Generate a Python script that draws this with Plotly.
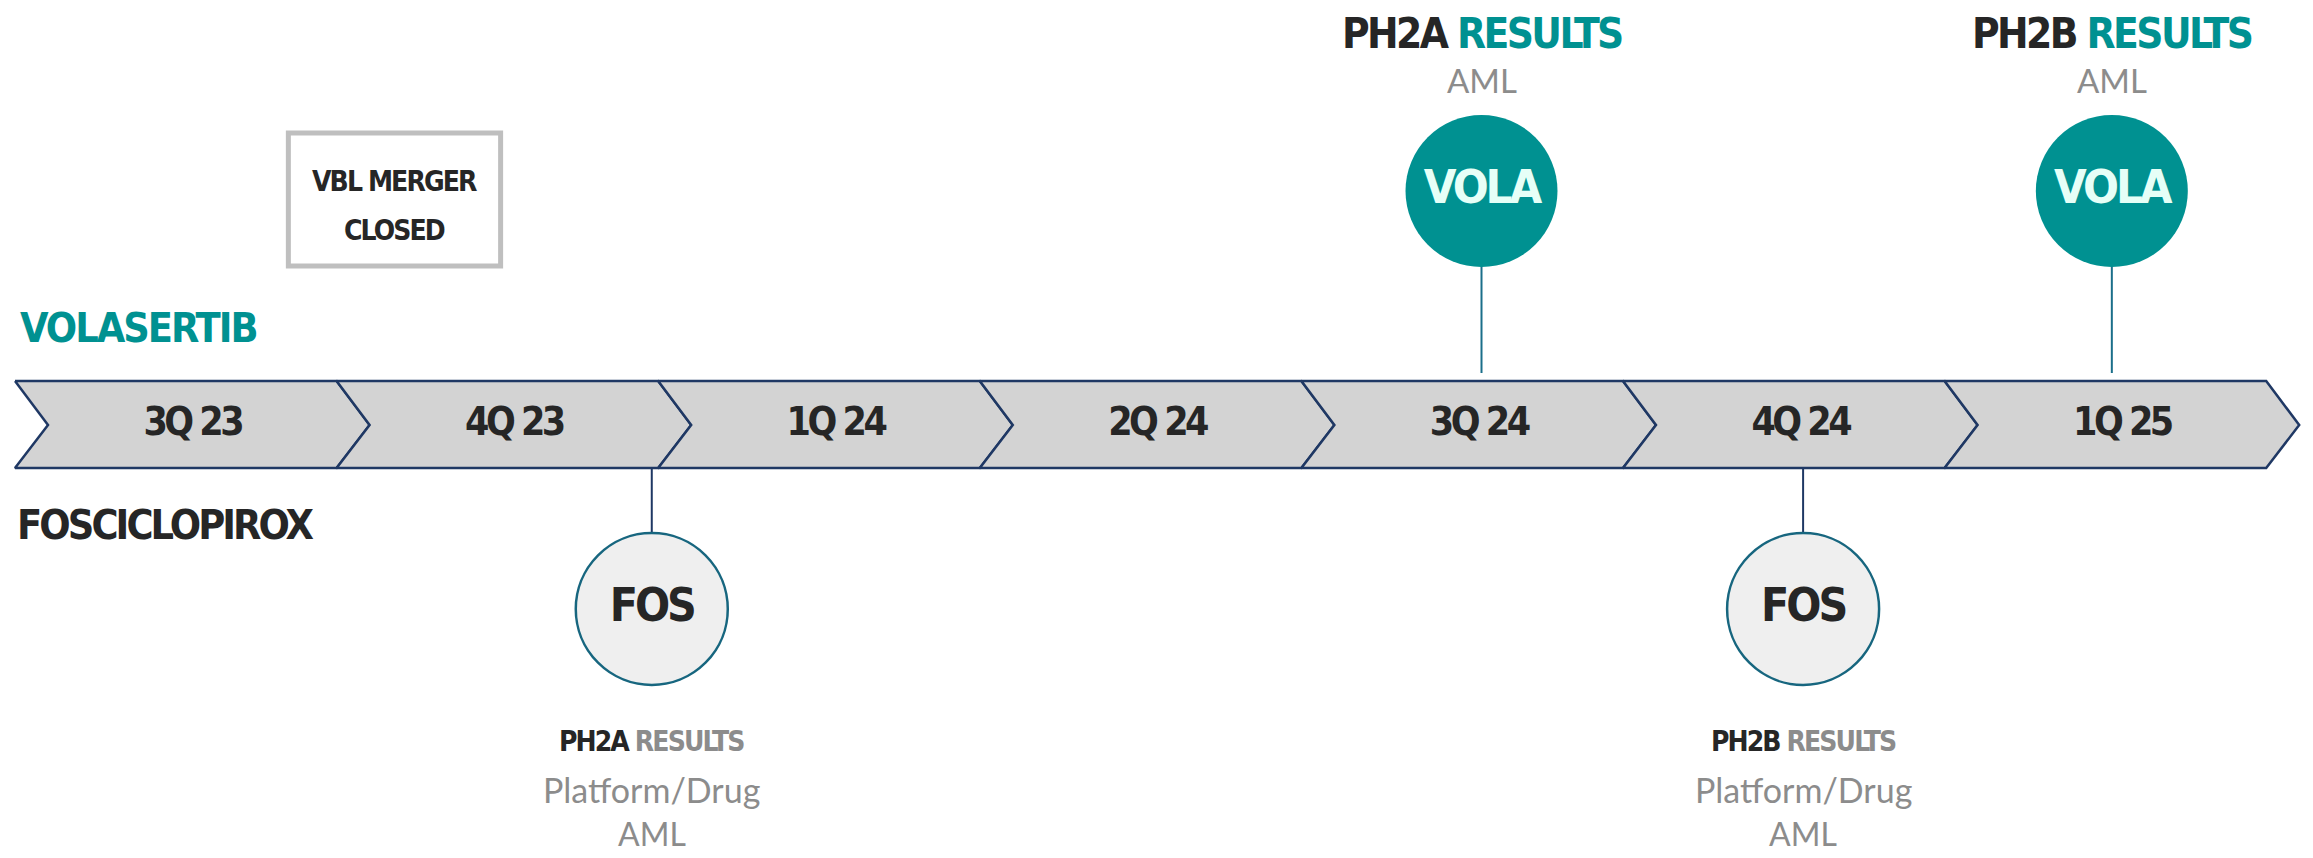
import plotly.graph_objects as go

# ---------------- data ----------------
quarters = ["3Q 23", "4Q 23", "1Q 24", "2Q 24", "3Q 24", "4Q 24", "1Q 25"]

# Volasertib milestones (position in quarter units along the timeline)
vola_pos = [4.56, 6.52]
vola_phase = ["PH2A", "PH2B"]
vola_word = ["RESULTS", "RESULTS"]
vola_sub = ["AML", "AML"]
vola_label = ["VOLA", "VOLA"]

# Fosciclopirox milestones
fos_pos = [1.98, 5.56]
fos_phase = ["PH2A", "PH2B"]
fos_word = ["RESULTS", "RESULTS"]
fos_sub1 = ["Platform/Drug", "Platform/Drug"]
fos_sub2 = ["AML", "AML"]
fos_label = ["FOS", "FOS"]

track_names = ["VOLASERTIB", "FOSCICLOPIROX"]
merger_text = ["VBL MERGER", "CLOSED"]
merger_span = [0.85, 1.51]  # quarter units

# ---------------- style / layout constants ----------------
W, H = 2313, 858
PAGE_OFF = 8                      # default body margin of the html page
X0_PX, Q_PX = 15, 321.6
TIP = 33 / Q_PX
BAND_TOP, BAND_MID, BAND_BOT = 381, 425, 468

COND = "Liberation Sans Narrow, DejaVu Sans Condensed, Arial Narrow, sans-serif"
SANS = "Lato, Open Sans, sans-serif"
DARK = "#262626"
TEAL = "#009191"
GRAY = "#8c8c8c"
NAVY = "#1f3864"
LINE_TEAL = "#1b6f8a"


def cond(txt, ls, color=None):
    st = f"letter-spacing:{ls}px"
    if color:
        st += f";color:{color}"
    return f"<span style='{st}'>{txt}</span>"


fig = go.Figure()

# chevrons
for i, q in enumerate(quarters):
    xs = [i, i + 1, i + 1 + TIP, i + 1, i, i + TIP, i]
    ys = [BAND_TOP, BAND_TOP, BAND_MID, BAND_BOT, BAND_BOT, BAND_MID, BAND_TOP]
    fig.add_trace(go.Scatter(x=xs, y=ys, mode="lines", fill="toself",
                             fillcolor="#d3d3d3",
                             line=dict(color=NAVY, width=2.5),
                             hoverinfo="skip", showlegend=False))

fig.add_trace(go.Scatter(
    x=[i + 0.5 + TIP / 2 for i in range(len(quarters))],
    y=[BAND_MID] * len(quarters), mode="text",
    text=[cond(q, -3.5) for q in quarters],
    textfont=dict(family=COND, size=39, color=DARK, weight="bold"),
    hoverinfo="skip", showlegend=False))

# connector lines
for p in vola_pos:
    fig.add_trace(go.Scatter(x=[p, p], y=[266, 373], mode="lines",
                             line=dict(color=LINE_TEAL, width=2),
                             hoverinfo="skip", showlegend=False))
for p in fos_pos:
    fig.add_trace(go.Scatter(x=[p, p], y=[BAND_BOT, 532], mode="lines",
                             line=dict(color=NAVY, width=2),
                             hoverinfo="skip", showlegend=False))

# circles
fig.add_trace(go.Scatter(
    x=vola_pos, y=[191] * len(vola_pos), mode="markers+text",
    text=[cond(t, -3) for t in vola_label], textposition="middle center",
    marker=dict(size=152, color=TEAL, line=dict(width=0)),
    textfont=dict(family=COND, size=47, color="#e6fff7", weight="bold"),
    hoverinfo="skip", showlegend=False))
fig.add_trace(go.Scatter(
    x=fos_pos, y=[609] * len(fos_pos), mode="markers+text",
    text=[cond(t, -3) for t in fos_label], textposition="middle center",
    marker=dict(size=152, color="#efefef", line=dict(width=2.5, color="#17667f")),
    textfont=dict(family=COND, size=46, color=DARK, weight="bold"),
    hoverinfo="skip", showlegend=False))

ann = []
# top titles
for p, ph, wd, sub in zip(vola_pos, vola_phase, vola_word, vola_sub):
    ann.append(dict(x=p, y=33, xref="x", yref="y", showarrow=False,
                    text=cond(ph + " ", -2.6) + cond(wd, -2.6, TEAL),
                    font=dict(family=COND, size=42, color=DARK, weight="bold")))
    ann.append(dict(x=p, y=80, xref="x", yref="y", showarrow=False, text=sub,
                    font=dict(family=SANS, size=33, color=GRAY)))
# bottom titles
for p, ph, wd, s1, s2 in zip(fos_pos, fos_phase, fos_word, fos_sub1, fos_sub2):
    ann.append(dict(x=p, y=741, xref="x", yref="y", showarrow=False,
                    text=cond(ph + " ", -1.9) + cond(wd, -1.9, GRAY),
                    font=dict(family=COND, size=28, color=DARK, weight="bold")))
    ann.append(dict(x=p, y=789, xref="x", yref="y", showarrow=False, text=s1,
                    font=dict(family=SANS, size=34, color=GRAY)))
    ann.append(dict(x=p, y=833, xref="x", yref="y", showarrow=False, text=s2,
                    font=dict(family=SANS, size=32, color=GRAY)))

# track names
ann.append(dict(x=0.01, y=328, xref="x", yref="y", showarrow=False, xanchor="left",
                text=cond(track_names[0], -2),
                font=dict(family=COND, size=41, color=TEAL, weight="bold")))
ann.append(dict(x=0.0, y=525, xref="x", yref="y", showarrow=False, xanchor="left",
                text=cond(track_names[1], -2.9),
                font=dict(family=COND, size=41, color=DARK, weight="bold")))

# merger box
mx = (merger_span[0] + merger_span[1]) / 2
for t, yy in zip(merger_text, [181, 230]):
    ann.append(dict(x=mx, y=yy, xref="x", yref="y", showarrow=False,
                    text=cond(t, -1.9),
                    font=dict(family=COND, size=28, color=DARK, weight="bold")))

fig.add_shape(type="rect", xref="x", yref="y", x0=merger_span[0], x1=merger_span[1],
              y0=133, y1=266, line=dict(color="#bfbfbf", width=5), fillcolor="white",
              layer="below")

fig.update_layout(
    width=W - PAGE_OFF, height=H - PAGE_OFF, margin=dict(l=0, r=0, t=0, b=0),
    paper_bgcolor="white", plot_bgcolor="white", annotations=ann,
    xaxis=dict(range=[(PAGE_OFF - X0_PX) / Q_PX, (W - X0_PX) / Q_PX],
               visible=False, fixedrange=True),
    yaxis=dict(range=[H, PAGE_OFF], visible=False, fixedrange=True),
)

fig.write_html("out.html")
